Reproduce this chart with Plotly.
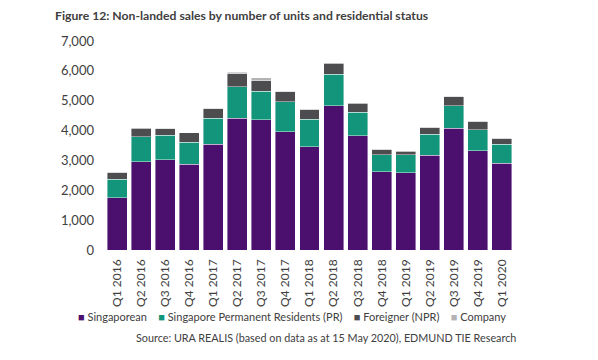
import plotly.graph_objects as go

quarters = ["Q1 2016", "Q2 2016", "Q3 2016", "Q4 2016",
            "Q1 2017", "Q2 2017", "Q3 2017", "Q4 2017",
            "Q1 2018", "Q2 2018", "Q3 2018", "Q4 2018",
            "Q1 2019", "Q2 2019", "Q3 2019", "Q4 2019",
            "Q1 2020"]

singaporean = [1750, 2950, 3025, 2880, 3550, 4410, 4355, 3965, 3460, 4825, 3830, 2625, 2580, 3180, 4075, 3325, 2900]
pr          = [615, 845, 825, 735, 870, 1060, 970, 1000, 925, 1060, 790, 570, 615, 705, 750, 695, 640]
foreigner   = [235, 290, 210, 310, 310, 435, 345, 335, 325, 365, 300, 175, 120, 220, 310, 290, 200]
company     = [10, 10, 10, 10, 15, 55, 95, 25, 10, 15, 10, 10, 10, 10, 10, 10, 10]

series_names = ["Singaporean", "Singapore Permanent Residents (PR)", "Foreigner (NPR)", "Company"]
series_values = [singaporean, pr, foreigner, company]
series_colors = ["#4B0F6E", "#12957B", "#4D4D50", "#B3B3B3"]

y_ticks = [0, 1000, 2000, 3000, 4000, 5000, 6000, 7000]

FONT = "Lato"

fig = go.Figure()
for name, vals, col in zip(series_names, series_values, series_colors):
    fig.add_trace(go.Bar(
        x=quarters, y=vals, name=name,
        marker=dict(color=col, line=dict(color="rgba(255,255,255,0.7)", width=0.6)),
        showlegend=False,
    ))

# legend drawn as a text row
legend_html = "&nbsp;&nbsp;&nbsp;&nbsp;".join(
    f"<span style='color:{c}'>■</span>&nbsp;{n}" for n, c in zip(series_names, series_colors)
)

fig.update_layout(
    width=598, height=360,
    barmode="stack",
    bargap=0.17,
    plot_bgcolor="white", paper_bgcolor="white",
    margin=dict(l=105, r=84, t=41, b=110),
    font=dict(family=FONT, color="#404040"),
    xaxis=dict(
        tickangle=-90, showgrid=False, showline=False, ticks="",
        tickfont=dict(size=12, family=FONT, color="#404040"),
        ticklabelstandoff=6,
    ),
    yaxis=dict(
        range=[0, 7000], tickvals=y_ticks, tickformat=",d",
        showgrid=False, zeroline=False, showline=False, ticks="",
        tickfont=dict(size=13, family=FONT, color="#404040"),
        ticklabelstandoff=10,
    ),
    annotations=[
        dict(text="<b>Figure 12: Non-landed sales by number of units and residential status</b>",
             xref="paper", yref="paper", x=(53 - 105) / 409, y=1 + (41 - 15) / 209,
             xanchor="left", yanchor="middle", showarrow=False,
             font=dict(size=12.2, family=FONT, color="#404040")),
        dict(text=legend_html,
             xref="paper", yref="paper", x=(76 - 105) / 409, y=-(316 - 250) / 209,
             xanchor="left", yanchor="middle", showarrow=False,
             font=dict(size=11, family=FONT, color="#404040")),
        dict(text="Source: URA REALIS (based on data as at 15 May 2020), EDMUND TIE Research",
             xref="paper", yref="paper", x=(518 - 105) / 409, y=-(337 - 250) / 209,
             xanchor="right", yanchor="middle", showarrow=False,
             font=dict(size=10.8, family=FONT, color="#404040")),
    ],
)

fig.write_html("out.html", config={"displayModeBar": False},
               post_script="document.body.style.margin='0px';")
